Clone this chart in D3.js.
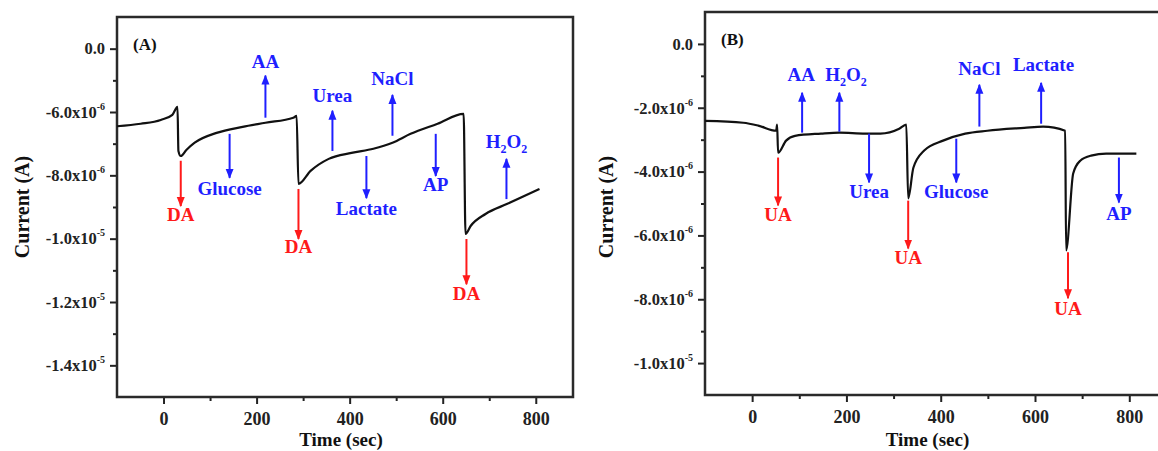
<!DOCTYPE html>
<html>
<head>
<meta charset="utf-8">
<script src="https://cdn.jsdelivr.net/npm/d3@7"></script>
<style>
body { margin: 0; background: #fff; overflow: hidden; }
text { font-family: "Liberation Serif", "Times New Roman", serif; font-weight: bold; }
</style>
</head>
<body>
<div id="chart"></div>
<script>
// Data (time in s, current in units of 1e-6 A) ---------- ----------
let timeA = [-100, -49, -6, 19, 30, 32, 37, 49, 67, 114, 170, 219, 279, 286, 290, 316, 355, 404, 451, 492, 531, 589, 645, 649, 660, 692, 739, 808];
let currentA = [-6.45, -6.37, -6.25, -6.09, -5.84, -7.23, -7.39, -7.2, -6.97, -6.66, -6.47, -6.34, -6.18, -6.12, -8.27, -7.86, -7.48, -7.29, -7.16, -6.97, -6.69, -6.37, -6.06, -9.85, -9.6, -9.22, -8.9, -8.43];

let timeB = [-100, -19, 13, 51, 53, 55, 72, 91, 146, 185, 240, 272, 312, 327, 331, 342, 365, 405, 452, 499, 577, 617, 664, 666, 681, 696, 719, 751, 815];
let currentB = [-2.41, -2.47, -2.56, -2.72, -2.53, -3.41, -3.03, -2.88, -2.81, -2.78, -2.81, -2.81, -2.66, -2.53, -4.84, -3.88, -3.34, -3.03, -2.81, -2.72, -2.63, -2.59, -2.72, -6.47, -4.06, -3.66, -3.5, -3.44, -3.44];

// Additions (arrows): name, time, tail, head, label position
let addNamesA = ["DA", "Glucose", "AA", "Urea", "Lactate", "NaCl", "AP", "DA", "H2O2", "DA"];
let addTimesA = [37, 142, 219, 363, 436, 492, 585, 290, 737, 651];
let addTailA  = [-7.54, -6.69, -6.18, -7.23, -7.39, -6.75, -6.69, -8.43, -8.75, -10.01];
let addHeadA  = [-8.97, -8.08, -4.85, -5.96, -8.72, -5.46, -8.02, -10.01, -7.48, -11.44];
let addTextA  = [-9.38, -8.56, -4.54, -5.61, -9.19, -5.08, -8.43, -10.39, -7.07, -11.88];
let labelTimesA = addTimesA;

let addNamesB = ["UA", "AA", "H2O2", "Urea", "UA", "Glucose", "NaCl", "Lactate", "UA", "AP"];
let addTimesB = [55, 106, 185, 248, 331, 433, 482, 613, 670, 778];
let addTailB  = [-3.56, -2.78, -2.75, -2.81, -4.91, -2.97, -2.59, -2.5, -6.53, -3.56];
let addHeadB  = [-5.06, -1.53, -1.53, -4.34, -6.41, -4.34, -1.28, -1.22, -7.97, -4.97];
let addTextB  = [-5.47, -1.09, -1.09, -4.75, -6.84, -4.75, -0.91, -0.78, -8.44, -5.44];
let labelTimesB = [55, 104, 199, 248, 331, 433, 482, 618, 670, 778];

// Axis ticks
let xTicks = [0, 200, 400, 600, 800];
let xMinor = [100, 300, 500, 700];
let yTicksA = [-4, -6, -8, -10, -12, -14];
let yLabelsA = [["0.0", ""], ["-6.0x10", "-6"], ["-8.0x10", "-6"], ["-1.0x10", "-5"], ["-1.2x10", "-5"], ["-1.4x10", "-5"]];
let yMinorA = [-5, -7, -9, -11, -13];
let yTicksB = [0, -2, -4, -6, -8, -10];
let yLabelsB = [["0.0", ""], ["-2.0x10", "-6"], ["-4.0x10", "-6"], ["-6.0x10", "-6"], ["-8.0x10", "-6"], ["-1.0x10", "-5"]];
let yMinorB = [-1, -3, -5, -7, -9];

// Setup ---------- ---------- ----------
let canvasW = 1158, canvasH = 451;
let red = "#ff1a1a", blue = "#1f1fff";
let svg = d3.select("#chart").append("svg").attr("width", canvasW).attr("height", canvasH);

let defs = svg.append("defs");
[["headRed", red], ["headBlue", blue]].forEach(m => {
    defs.append("marker").attr("id", m[0])
        .attr("viewBox", "0 0 10 10").attr("refX", 9).attr("refY", 5)
        .attr("markerUnits", "userSpaceOnUse").attr("markerWidth", 10).attr("markerHeight", 10)
        .attr("orient", "auto")
        .append("path").attr("d", "M0,1 L10,5 L0,9 Z").attr("fill", m[1]);
});

function chemLabel(sel, name) {
    // digits in formulas are subscripts
    name.split(/(\d)/).filter(s => s !== "").forEach(s => {
        if (/\d/.test(s)) sel.append("tspan").attr("font-size", 12).attr("dy", 5).text(s);
        else sel.append("tspan").attr("dy", sel.selectAll("tspan").size() ? -5 : 0).text(s);
    });
}

function panel(p) {
    let x = d3.scaleLinear().domain([-100, 880]).range(p.xRange);
    let y = d3.scaleLinear().domain(p.yDomain).range([p.bottom, p.top]);
    let g = svg.append("g");

    // minor ticks
    g.append("g").attr("transform", "translate(0," + p.bottom + ")")
        .call(d3.axisBottom(x).tickValues(xMinor).tickSize(4).tickFormat(""))
        .call(a => a.select(".domain").remove());
    g.append("g").attr("transform", "translate(" + p.xRange[0] + ",0)")
        .call(d3.axisLeft(y).tickValues(p.yMinor).tickSize(4).tickFormat(""))
        .call(a => a.select(".domain").remove());

    // major ticks
    let xa = g.append("g").attr("transform", "translate(0," + p.bottom + ")")
        .call(d3.axisBottom(x).tickValues(xTicks).tickSize(7).tickPadding(8).tickFormat(d3.format("d")));
    xa.select(".domain").remove();
    xa.selectAll(".tick text").attr("font-size", 18).attr("fill", "#222").attr("font-family", null);

    let ya = g.append("g").attr("transform", "translate(" + p.xRange[0] + ",0)")
        .call(d3.axisLeft(y).tickValues(p.yTicks).tickSize(7).tickPadding(5));
    ya.select(".domain").remove();
    ya.selectAll(".tick text").attr("font-size", 16.5).attr("fill", "#222").attr("font-family", null)
        .each(function(d, i) {
            let t = d3.select(this).text(p.yLabels[i][0]);
            if (p.yLabels[i][1]) t.append("tspan").attr("font-size", 10).attr("dy", -8).text(p.yLabels[i][1]);
        });
    g.selectAll(".tick line").attr("stroke", "#222").attr("stroke-width", 2);

    // frame
    g.append("rect").attr("x", p.xRange[0]).attr("y", p.top)
        .attr("width", p.xRange[1] - p.xRange[0]).attr("height", p.bottom - p.top)
        .attr("fill", "none").attr("stroke", "#2a2a2a").attr("stroke-width", 2.5);

    // curve
    let line = d3.line().x((d, i) => x(p.time[i])).y(d => y(d)).curve(d3.curveMonotoneX);
    g.append("path").datum(p.current).attr("d", line)
        .attr("fill", "none").attr("stroke", "#111").attr("stroke-width", 2.2);

    // additions
    p.names.forEach((n, i) => {
        let col = (n === "DA" || n === "UA") ? red : blue;
        g.append("line")
            .attr("x1", x(p.times[i])).attr("y1", y(p.tail[i]))
            .attr("x2", x(p.times[i])).attr("y2", y(p.head[i]))
            .attr("stroke", col).attr("stroke-width", 2)
            .attr("marker-end", col === red ? "url(#headRed)" : "url(#headBlue)");
        let t = g.append("text").attr("x", x(p.labelTimes[i])).attr("y", y(p.text[i]) + 7)
            .attr("text-anchor", "middle").attr("font-size", 19).attr("fill", col);
        chemLabel(t, n);
    });

    // titles
    g.append("text").attr("x", p.xRange[0] + 16).attr("y", p.top + 33)
        .attr("font-size", 17).attr("fill", "#111").text(p.tag);
    g.append("text").attr("x", (p.xRange[0] + Math.min(p.xRange[1], canvasW)) / 2 - 4).attr("y", 446)
        .attr("text-anchor", "middle").attr("font-size", 19).attr("fill", "#111").text("Time (sec)");
    g.append("text").attr("transform", "translate(" + p.yTitleX + ",207) rotate(-90)")
        .attr("text-anchor", "middle").attr("font-size", 20).attr("fill", "#111").text("Current (A)");
}

panel({tag: "(A)", xRange: [117, 573], top: 17, bottom: 397, yDomain: [-15, -3],
    yTicks: yTicksA, yLabels: yLabelsA, yMinor: yMinorA, time: timeA, current: currentA,
    names: addNamesA, times: addTimesA, tail: addTailA, head: addHeadA, text: addTextA,
    labelTimes: labelTimesA, yTitleX: 29});
panel({tag: "(B)", xRange: [705, 1167], top: 12, bottom: 395, yDomain: [-11, 1],
    yTicks: yTicksB, yLabels: yLabelsB, yMinor: yMinorB, time: timeB, current: currentB,
    names: addNamesB, times: addTimesB, tail: addTailB, head: addHeadB, text: addTextB,
    labelTimes: labelTimesB, yTitleX: 613});
</script>
</body>
</html>
